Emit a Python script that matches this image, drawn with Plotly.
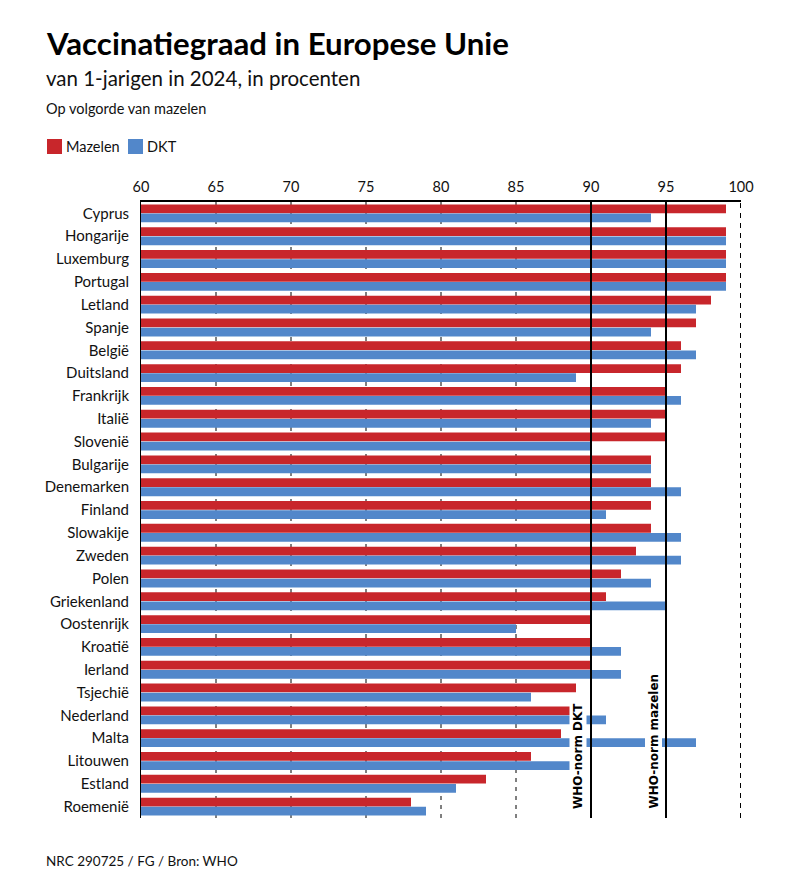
import plotly.graph_objects as go

countries = ["Cyprus", "Hongarije", "Luxemburg", "Portugal", "Letland", "Spanje", "België",
             "Duitsland", "Frankrijk", "Italië", "Slovenië", "Bulgarije", "Denemarken", "Finland",
             "Slowakije", "Zweden", "Polen", "Griekenland", "Oostenrijk", "Kroatië", "Ierland",
             "Tsjechië", "Nederland", "Malta", "Litouwen", "Estland", "Roemenië"]
mazelen = [99, 99, 99, 99, 98, 97, 96, 96, 95, 95, 95, 94, 94, 94, 94, 93, 92, 91, 90, 90, 90,
           89, 89, 88, 86, 83, 78]
dkt = [94, 99, 99, 99, 97, 94, 97, 89, 96, 94, 90, 94, 96, 91, 96, 96, 94, 95, 85, 92, 92,
       86, 91, 97, 89, 81, 79]
x_ticks = [60, 65, 70, 75, 80, 85, 90, 95, 100]
grid_dashed = [65, 70, 75, 80, 85]
norm_dkt = 90
norm_mazelen = 95
x_max = 100

RED = "#C8262B"
BLUE = "#5287CA"
FONT = "Lato"

fig = go.Figure()
fig.add_trace(go.Bar(y=countries, x=mazelen, orientation="h", name="Mazelen",
                     marker=dict(color=RED, line=dict(width=0)), base=0))
fig.add_trace(go.Bar(y=countries, x=dkt, orientation="h", name="DKT",
                     marker=dict(color=BLUE, line=dict(width=0)), base=0))

shapes = []
for g in grid_dashed:
    shapes.append(dict(type="line", xref="x", yref="paper", x0=g, x1=g, y0=0, y1=1,
                       line=dict(color="black", width=1, dash="4px,5px"), layer="below"))
shapes.append(dict(type="line", xref="x", yref="paper", x0=x_max, x1=x_max, y0=0, y1=1,
                   line=dict(color="black", width=2, dash="5px,5px"), layer="above"))
for n in [norm_dkt, norm_mazelen]:
    shapes.append(dict(type="line", xref="x", yref="paper", x0=n, x1=n, y0=0, y1=1,
                       line=dict(color="black", width=2), layer="above"))

# plot area geometry
L, R, T, B = 141, 66, 202, 68
W, H = 807, 886
ph = H - T - B
pw = W - L - R

def py(pix):
    return 1 + (T - pix) / ph

def px(pix):
    return (pix - L) / pw

annotations = [
    dict(text="<b>Vaccinatiegraad in Europese Unie</b>", xref="paper", yref="paper",
         x=px(44), y=py(22), xanchor="left", yanchor="top", showarrow=False,
         font=dict(family=FONT, size=31.2, color="black")),
    dict(text="van 1-jarigen in 2024, in procenten", xref="paper", yref="paper",
         x=px(44), y=py(64), xanchor="left", yanchor="top", showarrow=False,
         font=dict(family=FONT, size=20.5, color="#111")),
    dict(text="Op volgorde van mazelen", xref="paper", yref="paper",
         x=px(44), y=py(98), xanchor="left", yanchor="top", showarrow=False,
         font=dict(family=FONT, size=14.5, color="#111")),
    dict(text="Mazelen", xref="paper", yref="paper",
         x=px(64), y=py(146), xanchor="left", yanchor="middle", showarrow=False,
         font=dict(family=FONT, size=14.5, color="#111")),
    dict(text="DKT", xref="paper", yref="paper",
         x=px(145), y=py(146), xanchor="left", yanchor="middle", showarrow=False,
         font=dict(family=FONT, size=14.5, color="#111")),
    dict(text="NRC 290725 / FG / Bron: WHO", xref="paper", yref="paper",
         x=px(44), y=py(851), xanchor="left", yanchor="top", showarrow=False,
         font=dict(family=FONT, size=13.5, color="#111")),
    dict(text="<b>WHO-norm DKT</b>", xref="x", yref="paper", x=norm_dkt, y=0,
         xanchor="right", yanchor="bottom", xshift=-4, yshift=7, textangle=-90,
         showarrow=False, bgcolor="white", borderpad=1,
         font=dict(family="DejaVu Sans", size=12, color="black")),
    dict(text="<b>WHO-norm mazelen</b>", xref="x", yref="paper", x=norm_mazelen, y=0,
         xanchor="right", yanchor="bottom", xshift=-4, yshift=7, textangle=-90,
         showarrow=False, bgcolor="white", borderpad=1,
         font=dict(family="DejaVu Sans", size=12, color="black")),
]
shapes.append(dict(type="rect", xref="paper", yref="paper", x0=px(47), x1=px(62),
                   y0=py(139), y1=py(154), fillcolor=RED, line=dict(width=0)))
shapes.append(dict(type="rect", xref="paper", yref="paper", x0=px(128), x1=px(143),
                   y0=py(139), y1=py(154), fillcolor=BLUE, line=dict(width=0)))

fig.update_layout(
    width=W, height=H,
    margin=dict(l=L, r=R, t=T, b=B, pad=0),
    paper_bgcolor="white", plot_bgcolor="white",
    barmode="group", bargap=0.2, bargroupgap=0.04,
    showlegend=False,
    shapes=shapes, annotations=annotations,
    font=dict(family=FONT, size=14, color="#111"),
    xaxis=dict(range=[60, x_max], side="top", tickvals=x_ticks, ticks="", showgrid=False,
               zeroline=False, showline=True, linecolor="black", linewidth=2,
               tickfont=dict(family=FONT, size=14.5, color="#111"), ticklabelstandoff=2),
    yaxis=dict(autorange="reversed", ticks="", showgrid=False, showline=True,
               linecolor="black", linewidth=1, ticklabelstandoff=8,
               tickfont=dict(family=FONT, size=15, color="#111")),
)
fig.write_html("out.html")
